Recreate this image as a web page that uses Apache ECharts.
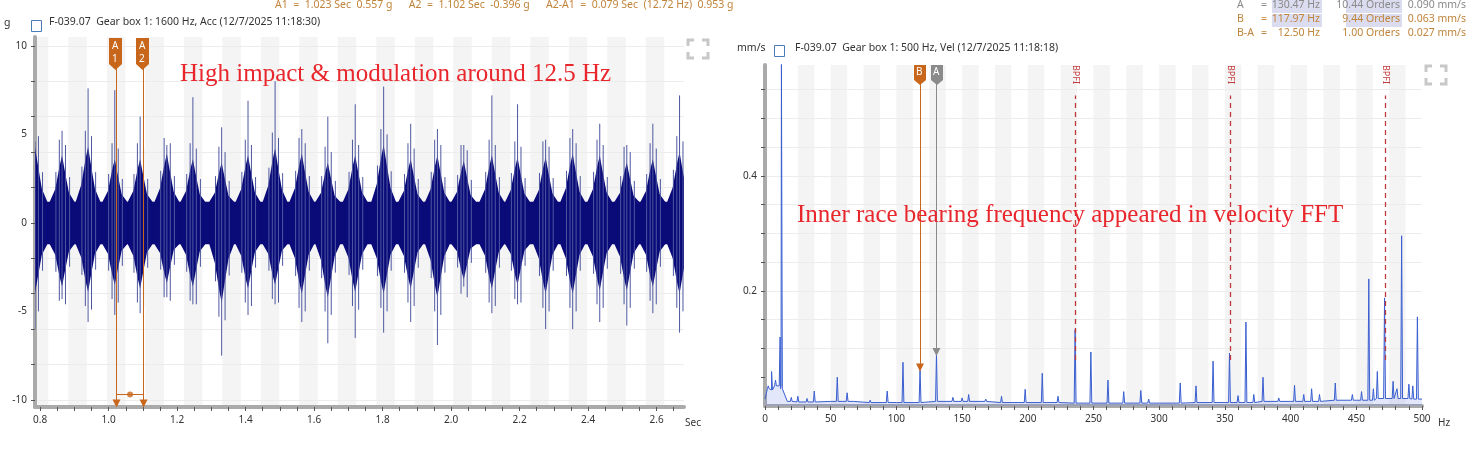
<!DOCTYPE html>
<html><head><meta charset="utf-8">
<script src="https://cdn.jsdelivr.net/npm/echarts@6/dist/echarts.min.js"></script>
<style>html,body{margin:0;padding:0;background:#fff}#c{width:1470px;height:455px}</style>
</head><body><div id="c"></div>
<script>
// ---- Left: time waveform (bursts every ~0.078 s) ----
const burstTimes = [0.785,0.864,0.94,1.018,1.092,1.17,1.246,1.33,1.407,1.486,1.564,1.64,1.72,1.803,1.882,1.96,2.037,2.119,2.194,2.276,2.355,2.434,2.513,2.589,2.667];
const burstBodyTop = [4.3,3.8,4.3,3.6,3.6,3.9,3.6,3.4,3.8,4.2,3.9,3.4,3.8,4.4,3.6,3.8,3.5,3.8,3.7,3.7,3.9,3.8,3.4,3.6,4.0];
const burstBodyBot = [-4.0,-3.6,-3.9,-3.5,-3.7,-3.4,-3.6,-4.5,-3.7,-3.5,-4.0,-4.2,-3.9,-4.0,-3.7,-4.2,-3.2,-3.7,-3.5,-4.0,-4.0,-3.8,-3.8,-3.6,-4.0];
const burstSpikeMax = [4.6,5.2,7.6,7.5,6.0,4.4,7.1,5.4,6.9,8.0,5.3,6.0,6.7,7.7,5.6,5.3,4.4,7.2,6.7,4.7,5.3,5.6,4.4,5.6,7.2];
const burstSpikeMin = [-6.0,-4.3,-5.6,-5.2,-5.1,-4.2,-4.6,-7.5,-5.2,-4.6,-5.6,-6.8,-6.5,-6.2,-5.6,-6.9,-3.6,-5.1,-4.6,-6.0,-6.0,-5.6,-5.8,-5.1,-6.2];
const waveFloor = 1.2;
const leftXLabels = [0.8,1.0,1.2,1.4,1.6,1.8,2.0,2.2,2.4,2.6];
const leftYLabels = [-10,-5,0,5,10];
const cursorA1 = 1.023, cursorA2 = 1.102;

// ---- Right: velocity spectrum ----
const floorHz  = [0,2,5,10,14,17,25,50,100,150,200,250,300,350,400,450,480,500];
const floorVal = [0.012,0.03,0.028,0.035,0.03,0.008,0.007,0.008,0.006,0.008,0.006,0.005,0.005,0.006,0.008,0.01,0.013,0.012];
const peakHz  = [2.5,5,8,11.5,12.5,20,25,32,37.5,55,62.5,68,80,93,105,118,130.5,143,150,155,168,180,198,211,223,236,248,261,273,286,292,316,328,341,353.5,360,366,372,379,391,403,410,416,422,434,447,454,459.5,463,466,471.5,478,481,484.5,490,493,496.5];
const peakAmp = [0.035,0.06,0.045,0.12,0.6,0.015,0.017,0.013,0.026,0.05,0.023,0.01,0.01,0.026,0.076,0.063,0.09,0.015,0.014,0.02,0.012,0.017,0.029,0.057,0.017,0.133,0.094,0.045,0.025,0.027,0.012,0.04,0.035,0.078,0.092,0.018,0.146,0.02,0.05,0.014,0.036,0.02,0.03,0.02,0.04,0.02,0.025,0.221,0.03,0.06,0.188,0.043,0.03,0.296,0.038,0.035,0.155];
const bpfiHz = [236,354,472];
const cursorB = 117.97, cursorBval = 0.063, cursorA = 130.47, cursorAval = 0.090;
const rightXLabels = [0,50,100,150,200,250,300,350,400,450,500];
const rightYLabels = [0.2,0.4];

function floorAt(f){let best=0;for(let i=0;i<floorHz.length;i++){if(Math.abs(floorHz[i]-f)<Math.abs(floorHz[best]-f))best=i;}return floorVal[best];}
let spec=[];
floorHz.forEach((f,i)=>spec.push([f,floorVal[i]]));
peakHz.forEach((f,i)=>{const fl=floorAt(f);spec.push([f-0.7,fl]);spec.push([f,peakAmp[i]]);spec.push([f+0.7,fl]);});
spec.sort((a,b)=>a[0]-b[0]);

const ORANGE='#c8671c', HDR='#c0843a', GREY='#8a8a8a';
const chart = echarts.init(document.getElementById('c'));

const leftBands=[];for(let s=0.77;s<2.68;s+=0.1124)leftBands.push([{xAxis:Math.max(s,0.785)},{xAxis:Math.min(s+0.054,2.68)}]);
const rightBands=[];for(let s=25;s<500;s+=25)rightBands.push([{xAxis:s},{xAxis:s+12.5}]);

function burstItem(params,api){
  const i=params.dataIndex,t=burstTimes[i];
  const P=(x,y)=>api.coord([x,y]);
  const top=burstBodyTop[i],bot=burstBodyBot[i],f=waveFloor;
  const poly=[P(t-0.036,f),P(t-0.02,top*0.5),P(t-0.007,top*0.85),P(t,top),P(t+0.007,top*0.8),P(t+0.02,top*0.45),P(t+0.036,f),
              P(t+0.036,-f),P(t+0.02,bot*0.45),P(t+0.007,bot*0.8),P(t,bot),P(t-0.007,bot*0.85),P(t-0.02,bot*0.5),P(t-0.036,-f)];
  const ch=[{type:'polygon',shape:{points:poly},style:{fill:'#0a0a78'}}];
  const sp=[[0,burstSpikeMax[i],burstSpikeMin[i]],[-0.008,top+0.9,bot-0.8],[0.01,top+0.6,bot-1.0],[-0.018,top*0.6+0.6,bot*0.6-0.6],[0.022,top*0.55+0.5,bot*0.55-0.5]];
  sp.forEach(s=>{const a=P(t+s[0],s[1]),b=P(t+s[0],s[2]);ch.push({type:'line',shape:{x1:a[0],y1:a[1],x2:b[0],y2:b[1]},style:{stroke:'#4e58a0',lineWidth:1}});});
  const cs=params.coordSys;
  return {type:'group',children:ch,clipPath:{type:'rect',shape:{x:cs.x,y:cs.y,width:cs.width,height:cs.height}}};
}
const F='10.5px "Noto Sans"';
function T(o){return Object.assign({type:'text',z:100},o);}

const option={
  animation:false,
  textStyle:{fontFamily:'Noto Sans'},
  grid:[{left:35,top:37,width:649,height:370},{left:765,top:65,width:657,height:341}],
  xAxis:[
    {gridIndex:0,type:'value',min:0.785,max:2.68,splitLine:{show:false},
     axisLine:{onZero:false,lineStyle:{color:'#aaa',width:4}},
     axisTick:{customValues:[0.8,0.85,0.9,0.95,1,1.05,1.1,1.15,1.2,1.25,1.3,1.35,1.4,1.45,1.5,1.55,1.6,1.65,1.7,1.75,1.8,1.85,1.9,1.95,2,2.05,2.1,2.15,2.2,2.25,2.3,2.35,2.4,2.45,2.5,2.55,2.6,2.65],length:4,lineStyle:{color:'#555'}},
     axisLabel:{customValues:leftXLabels,formatter:v=>v.toFixed(1),color:'#333',fontSize:10,margin:8}},
    {gridIndex:1,type:'value',min:0,max:500,splitLine:{show:false},
     axisLine:{onZero:false,lineStyle:{color:'#aaa',width:4}},
     axisTick:{customValues:[0,10,20,30,40,50,60,70,80,90,100,110,120,130,140,150,160,170,180,190,200,210,220,230,240,250,260,270,280,290,300,310,320,330,340,350,360,370,380,390,400,410,420,430,440,450,460,470,480,490,500],length:4,lineStyle:{color:'#555'}},
     axisLabel:{customValues:rightXLabels,color:'#333',fontSize:10,margin:8}}
  ],
  yAxis:[
    {gridIndex:0,type:'value',min:-10.4,max:10.5,splitLine:{show:false},
     axisLine:{onZero:false,lineStyle:{color:'#aaa',width:4}},
     axisTick:{customValues:[-10,-8,-6,-4,-2,0,2,4,6,8,10],length:4,lineStyle:{color:'#555'}},
     axisLabel:{customValues:leftYLabels,color:'#333',fontSize:10}},
    {gridIndex:1,type:'value',min:0,max:0.593,splitLine:{show:false},
     axisLine:{onZero:false,lineStyle:{color:'#aaa',width:4}},
     axisTick:{customValues:[0.05,0.1,0.15,0.2,0.25,0.3,0.35,0.4,0.45,0.5,0.55],length:4,lineStyle:{color:'#555'}},
     axisLabel:{customValues:rightYLabels,formatter:v=>v.toFixed(1),color:'#333',fontSize:10}}
  ],
  series:[
    {type:'line',xAxisIndex:0,yAxisIndex:0,data:[],silent:true,z:0,
     markArea:{silent:true,z:0,itemStyle:{color:'#f4f4f4'},data:leftBands},
     markLine:{silent:true,z:0,symbol:'none',label:{show:false},lineStyle:{color:'#ececec',type:'solid',width:1},
       data:[-8,-6,-4,-2,2,4,6,8,10,-10].map(v=>({yAxis:v}))}},
    {type:'custom',xAxisIndex:0,yAxisIndex:0,silent:true,z:5,
     renderItem:(p,api)=>{const a=api.coord([0.785,waveFloor]),b=api.coord([2.68,-waveFloor]);
       return {type:'rect',shape:{x:a[0],y:a[1],width:b[0]-a[0],height:b[1]-a[1]},style:{fill:'#0a0a78'}};},
     data:[0]},
    {type:'custom',xAxisIndex:0,yAxisIndex:0,silent:true,z:5,renderItem:burstItem,data:burstTimes.map((t,i)=>[t,burstSpikeMax[i]])},
    {type:'line',xAxisIndex:0,yAxisIndex:0,data:[],silent:true,z:10,
     markLine:{silent:true,z:10,symbol:['none','triangle'],symbolSize:8,label:{show:false},lineStyle:{color:ORANGE,type:'solid',width:1},
       data:[[{coord:[cursorA1,9.1]},{coord:[cursorA1,-10.2]}],[{coord:[cursorA2,9.1]},{coord:[cursorA2,-10.2]}],
             [{coord:[cursorA1,-9.7],symbol:'none'},{coord:[cursorA2,-9.7],symbol:'none'}]]}},
    {type:'scatter',xAxisIndex:0,yAxisIndex:0,silent:true,z:11,symbolSize:6,itemStyle:{color:ORANGE},data:[[(cursorA1+cursorA2)/2,-9.7]]},
    {type:'line',xAxisIndex:1,yAxisIndex:1,data:[],silent:true,z:0,
     markArea:{silent:true,z:0,itemStyle:{color:'#f4f4f4'},data:rightBands},
     markLine:{silent:true,z:0,symbol:'none',label:{show:false},lineStyle:{color:'#ececec',type:'solid',width:1},
       data:[0.1,0.15,0.2,0.25,0.3,0.35,0.4,0.45,0.5,0.55].map(v=>({yAxis:v}))}},
    {type:'line',xAxisIndex:1,yAxisIndex:1,silent:true,z:5,symbol:'none',data:spec,
     lineStyle:{color:'#3a5fd0',width:1},areaStyle:{color:'rgba(90,120,230,0.25)'}},
    {type:'line',xAxisIndex:1,yAxisIndex:1,data:[],silent:true,z:8,
     markLine:{silent:true,z:8,symbol:'none',label:{show:false},lineStyle:{color:'#c0393b',type:[5,4],width:1.3},
       data:bpfiHz.map(f=>[{coord:[f,0.08]},{coord:[f,0.54]}])}},
    {type:'line',xAxisIndex:1,yAxisIndex:1,data:[],silent:true,z:10,
     markLine:{silent:true,z:10,symbol:['none','triangle'],symbolSize:8,label:{show:false},
       data:[[{coord:[cursorB,0.565],lineStyle:{color:ORANGE,type:'solid',width:1}},{coord:[cursorB,cursorBval+0.004]}],
             [{coord:[cursorA,0.565],lineStyle:{color:GREY,type:'solid',width:1}},{coord:[cursorA,cursorAval+0.004]}]]}}
  ],
  graphic:[
    T({left:275,top:0,style:{text:'A1  =  1.023 Sec  0.557 g      A2  =  1.102 Sec  -0.396 g      A2-A1  =  0.079 Sec  (12.72 Hz)  0.953 g',fill:HDR,font:F}}),
    T({left:4,top:18,style:{text:'g',fill:'#333',font:F}}),
    {type:'rect',z:100,left:29,top:18,shape:{width:10,height:11},style:{fill:'none',stroke:'#4a7ab8',lineWidth:1}},
    T({left:49,top:17,style:{text:'F-039.07  Gear box 1: 1600 Hz, Acc (12/7/2025 11:18:30)',fill:'#333',font:F}}),
    T({left:737,top:43,style:{text:'mm/s',fill:'#333',font:F}}),
    {type:'rect',z:100,left:772,top:43,shape:{width:10,height:11},style:{fill:'none',stroke:'#4a7ab8',lineWidth:1}},
    T({left:795,top:43,style:{text:'F-039.07  Gear box 1: 500 Hz, Vel (12/7/2025 11:18:18)',fill:'#333',font:F}}),
    {type:'rect',z:99,left:1272,top:0,shape:{width:50,height:13},style:{fill:'#dcdcf0'}},
    {type:'rect',z:99,left:1272,top:14,shape:{width:50,height:13},style:{fill:'#dcdcf0'}},
    {type:'rect',z:99,left:1346,top:0,shape:{width:56,height:13},style:{fill:'#dcdcf0'}},
    {type:'rect',z:99,left:1346,top:14,shape:{width:56,height:13},style:{fill:'#dcdcf0'}},
    T({left:1237,top:0,style:{text:'A',fill:GREY,font:F}}),
    T({left:1237,top:14,style:{text:'B',fill:HDR,font:F}}),
    T({left:1237,top:28,style:{text:'B-A',fill:HDR,font:F}}),
    T({left:1261,top:0,style:{text:'=',fill:GREY,font:F}}),
    T({left:1261,top:14,style:{text:'=',fill:HDR,font:F}}),
    T({left:1261,top:28,style:{text:'=',fill:HDR,font:F}}),
    T({right:150,top:0,style:{text:'130.47 Hz',fill:GREY,font:F}}),
    T({right:150,top:14,style:{text:'117.97 Hz',fill:HDR,font:F}}),
    T({right:150,top:28,style:{text:'12.50 Hz',fill:HDR,font:F}}),
    T({right:70,top:0,style:{text:'10.44 Orders',fill:GREY,font:F}}),
    T({right:70,top:14,style:{text:'9.44 Orders',fill:HDR,font:F}}),
    T({right:70,top:28,style:{text:'1.00 Orders',fill:HDR,font:F}}),
    T({right:4,top:0,style:{text:'0.090 mm/s',fill:GREY,font:F}}),
    T({right:4,top:14,style:{text:'0.063 mm/s',fill:HDR,font:F}}),
    T({right:4,top:28,style:{text:'0.027 mm/s',fill:HDR,font:F}}),
    T({left:685,top:418,style:{text:'Sec',fill:'#333',font:'10px "Noto Sans"'}}),
    T({left:1438,top:418,style:{text:'Hz',fill:'#333',font:'10px "Noto Sans"'}}),
    T({left:180,top:62,style:{text:'High impact & modulation around 12.5 Hz',fill:'#e8262c',font:'25px "Liberation Serif"'}}),
    T({left:797,top:203,style:{text:'Inner race bearing frequency appeared in velocity FFT',fill:'#e8262c',font:'25px "Liberation Serif"'}}),
    {type:'polygon',z:100,shape:{points:[[109,38],[122,38],[122,64],[115.5,70],[109,64]]},style:{fill:ORANGE}},
    T({left:112,top:40,style:{text:'A\n1',fill:'#fff',font:'10px "Noto Sans"',lineHeight:13}}),
    {type:'polygon',z:100,shape:{points:[[136,38],[149,38],[149,64],[142.5,70],[136,64]]},style:{fill:ORANGE}},
    T({left:139,top:40,style:{text:'A\n2',fill:'#fff',font:'10px "Noto Sans"',lineHeight:13}}),
    {type:'polygon',z:100,shape:{points:[[914,65],[926,65],[926,80],[920,85],[914,80]]},style:{fill:ORANGE}},
    T({left:916,top:67,style:{text:'B',fill:'#fff',font:'10px "Noto Sans"'}}),
    {type:'polygon',z:100,shape:{points:[[931,65],[943,65],[943,80],[937,85],[931,80]]},style:{fill:GREY}},
    T({left:933,top:67,style:{text:'A',fill:'#fff',font:'10px "Noto Sans"'}}),
    ...bpfiHz.map(f=>({type:'text',z:100,x:765+f*1.313+5,y:65,rotation:-Math.PI/2,style:{text:'BPFI',fill:'#c0393b',font:'9px "Noto Sans"'}})),
    ...[[688,40],[1426,66]].map(([x,y])=>({type:'group',z:100,x:x,y:y,children:[
      {type:'polyline',shape:{points:[[0,6],[0,0],[6,0]]},style:{stroke:'#c8c8c8',lineWidth:3,fill:'none'}},
      {type:'polyline',shape:{points:[[14,0],[20,0],[20,6]]},style:{stroke:'#c8c8c8',lineWidth:3,fill:'none'}},
      {type:'polyline',shape:{points:[[0,12],[0,18],[6,18]]},style:{stroke:'#c8c8c8',lineWidth:3,fill:'none'}},
      {type:'polyline',shape:{points:[[14,18],[20,18],[20,12]]},style:{stroke:'#c8c8c8',lineWidth:3,fill:'none'}}]}))
  ]
};
chart.setOption(option);
</script></body></html>
